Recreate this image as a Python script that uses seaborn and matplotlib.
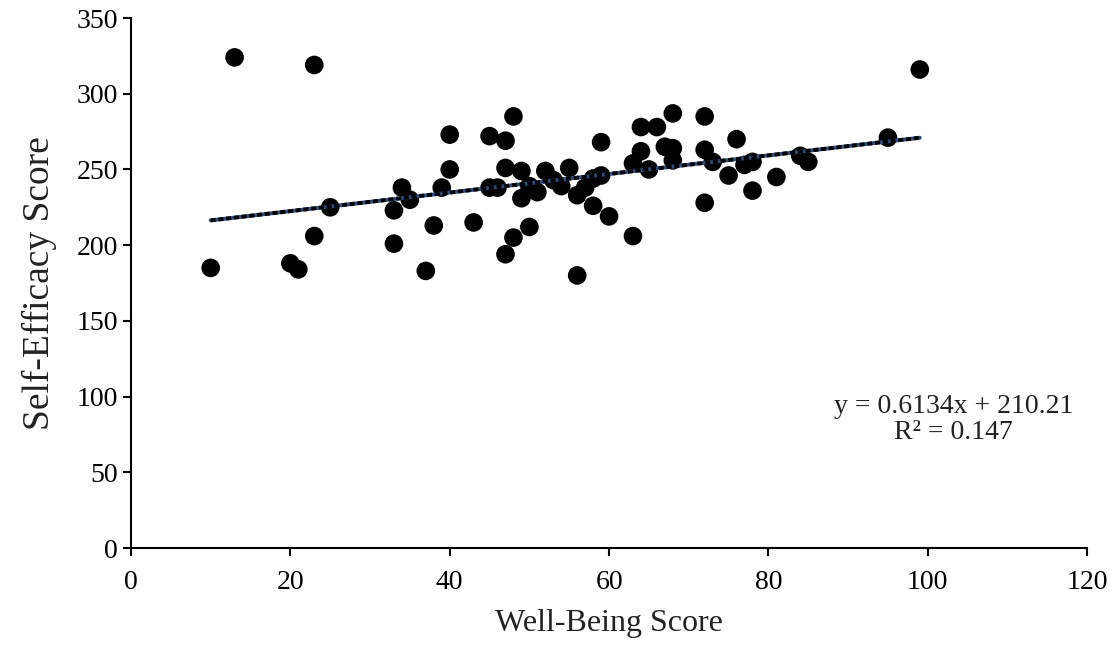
import numpy as np
import pandas as pd
import matplotlib
matplotlib.use("Agg")
import matplotlib.pyplot as plt
import seaborn as sns

# valeurs
well_being = [10, 13, 23, 20, 21, 23, 25, 33, 33, 34,
              35, 37, 38, 39, 40, 40, 43, 45, 45, 46,
              47, 47, 47, 48, 48, 49, 49, 50, 50, 51,
              52, 53, 54, 55, 56, 56, 57, 58, 58, 59,
              59, 60, 63, 63, 64, 64, 65, 66, 67, 68,
              68, 68, 72, 72, 72, 73, 75, 76, 77, 78,
              78, 81, 84, 85, 95, 99]
self_efficacy = [185, 324, 319, 188, 184, 206, 225, 223, 201, 238,
                 230, 183, 213, 238, 273, 250, 215, 272, 238, 238,
                 269, 251, 194, 285, 205, 249, 231, 212, 239, 235,
                 249, 243, 239, 251, 180, 233, 238, 226, 244, 268,
                 246, 219, 206, 254, 278, 262, 250, 278, 265, 287,
                 264, 256, 285, 263, 228, 255, 246, 270, 253, 236,
                 255, 245, 259, 255, 271, 316]

slope = 0.6134
intercept = 210.21
r2 = 0.147

x_ticks = [0, 20, 40, 60, 80, 100, 120]
y_ticks = [0, 50, 100, 150, 200, 250, 300, 350]

df = pd.DataFrame({"wb": well_being, "se": self_efficacy})

# droite de tendance (type Excel)
trend = pd.DataFrame({"wb": [df["wb"].min(), df["wb"].max()]})
trend["se"] = slope * trend["wb"] + intercept

sns.set_style("ticks")
plt.rcParams["font.family"] = ["Liberation Serif", "DejaVu Serif"]

fig = plt.figure(figsize=(11.15, 6.48), dpi=100)
ax = fig.add_axes([0.1175, 0.1543, 0.8575, 0.8179])

sns.scatterplot(data=df, x="wb", y="se", ax=ax, color="black", s=180,
                edgecolor="none", zorder=2)
sns.lineplot(data=trend, x="wb", y="se", ax=ax, color="#2F4B7C", lw=2.8,
             zorder=3)
sns.lineplot(data=trend, x="wb", y="se", ax=ax, color="black", lw=2.8,
             dashes=False, zorder=4).lines[-1].set_dashes((1.3, 0.7))

ax.set_xlim(0, 120)
ax.set_ylim(0, 350)
ax.set_xticks(x_ticks)
ax.set_yticks(y_ticks)
ax.tick_params(labelsize=20, length=6, width=1.5, color="black", colors="black")
ax.tick_params(axis="x", pad=10)
for side in ["top", "right"]:
    ax.spines[side].set_visible(False)
for side in ["left", "bottom"]:
    ax.spines[side].set_linewidth(1.5)
    ax.spines[side].set_color("black")

ax.set_xlabel("Well-Being Score", fontsize=23, color="#222222", labelpad=10)
ax.set_ylabel("Self-Efficacy Score", fontsize=27, color="#222222", labelpad=14)

ax.text(103.2, 85, f"y = {slope}x + {intercept}\nR² = {r2}", ha="center",
        va="center", fontsize=20, linespacing=1.05, color="#222222")

plt.savefig("out.png", dpi=100)
